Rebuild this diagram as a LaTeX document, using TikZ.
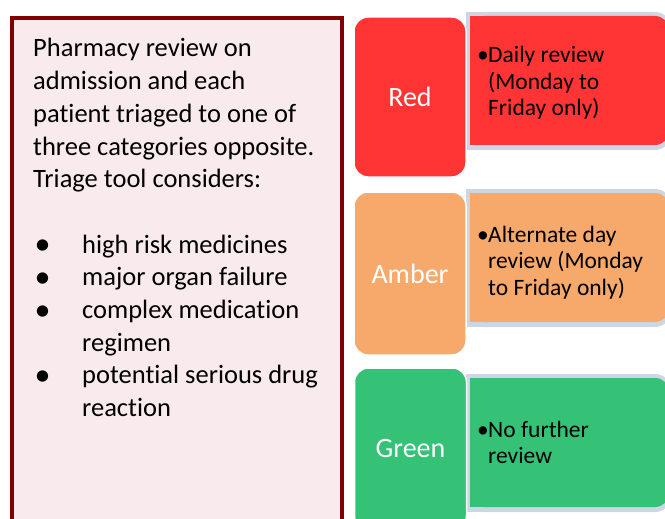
\documentclass[tikz,border=0pt]{standalone}
\usepackage{fontspec}
\setmainfont[Ligatures=NoCommon]{Carlito}
\usetikzlibrary{positioning}
\definecolor{triagered}{HTML}{FF3535}
\definecolor{triageamber}{HTML}{F6A96B}
\definecolor{triagegreen}{HTML}{35C276}
\definecolor{halo}{HTML}{CDD6E3}
\definecolor{panelfill}{HTML}{F9EAED}
\definecolor{panelline}{HTML}{800000}
\tikzstyle{panel} = [draw=panelline, fill=panelfill, line width=3.5pt,
    inner sep=0pt, minimum width=330pt, minimum height=542pt]
\tikzstyle{tile} = [draw=white, line width=1.5pt, rounded corners=14pt,
    inner sep=0pt, minimum width=112pt, text=white, font=\fontsize{28}{30}\selectfont]
\tikzstyle{info} = [rounded corners=14pt, inner sep=0pt, minimum width=199pt, minimum height=129pt]
\tikzstyle{shade} = [fill=halo, rounded corners=16pt, inner sep=0pt, minimum width=205pt, minimum height=138pt]
\tikzstyle{infotext} = [inner sep=0pt, anchor=base west, font=\fontsize{23.5}{26.5}\selectfont]
\tikzstyle{paneltext} = [inner sep=0pt, anchor=base west, font=\fontsize{26.5}{32.7}\selectfont]
\newcommand{\infobullet}[1]{\parbox[t]{180pt}{\hangindent=11pt\hangafter=1\noindent
    \makebox[11pt][l]{\textbullet}#1}}
\newcommand{\riskitem}[1]{\hangindent=49pt\hangafter=1\noindent
    \makebox[49pt][l]{\hspace{1.5pt}\raisebox{-1.5pt}{\fontsize{32}{32.7}\selectfont\textbullet}}#1\par}

\begin{document}
\begin{tikzpicture}[x=1pt, y=-1pt]
    \useasboundingbox (0,0) rectangle (665,519);
    \clip (0,0) rectangle (665,519);
    % left panel
    \node [panel] (panel) at (177,289) {};
    \node [paneltext] (triage) at (33,57) {\parbox[t]{305pt}{%
        Pharmacy review on\\ admission and each\\ patient triaged to one of\\
        three categories opposite.\\ Triage tool considers:\par
        \vspace{32.7pt}
        \riskitem{high risk medicines}
        \riskitem{major organ failure}
        \riskitem{complex medication\\ regimen}
        \riskitem{potential serious drug\\ reaction}}};
    % red row
    \node [shade] (redhalo) at (568.5,81) {};
    \fill [halo] (redhalo.north west) rectangle ([xshift=18pt]redhalo.south west);
    \node [info, fill=triagered] (redinfo) at (569.5,80.5) {};
    \fill [triagered] (redinfo.north west) rectangle ([xshift=16pt]redinfo.south west);
    \node [tile, fill=triagered, minimum height=160pt] (red) at (410,97) {Red};
    \node [infotext] (redtext) at (477,63) {\infobullet{Daily review\\ (Monday to\\ Friday only)}};
    % amber row
    \node [shade] (amberhalo) at (568.5,258) {};
    \fill [halo] (amberhalo.north west) rectangle ([xshift=18pt]amberhalo.south west);
    \node [info, fill=triageamber] (amberinfo) at (569.5,257.5) {};
    \fill [triageamber] (amberinfo.north west) rectangle ([xshift=16pt]amberinfo.south west);
    \node [tile, fill=triageamber, minimum height=163pt] (amber) at (410,273.5) {Amber};
    \node [infotext] (ambertext) at (477,242) {\infobullet{Alternate day\\ review (Monday\\ to Friday only)}};
    % green row
    \node [shade] (greenhalo) at (568.5,443) {};
    \fill [halo] (greenhalo.north west) rectangle ([xshift=18pt]greenhalo.south west);
    \node [info, fill=triagegreen] (greeninfo) at (569.5,442.5) {};
    \fill [triagegreen] (greeninfo.north west) rectangle ([xshift=16pt]greeninfo.south west);
    \node [tile, fill=triagegreen, minimum height=162pt] (green) at (410.5,449) {Green};
    \node [infotext] (greentext) at (477,437) {\infobullet{No further\\ review}};
\end{tikzpicture}
\end{document}
